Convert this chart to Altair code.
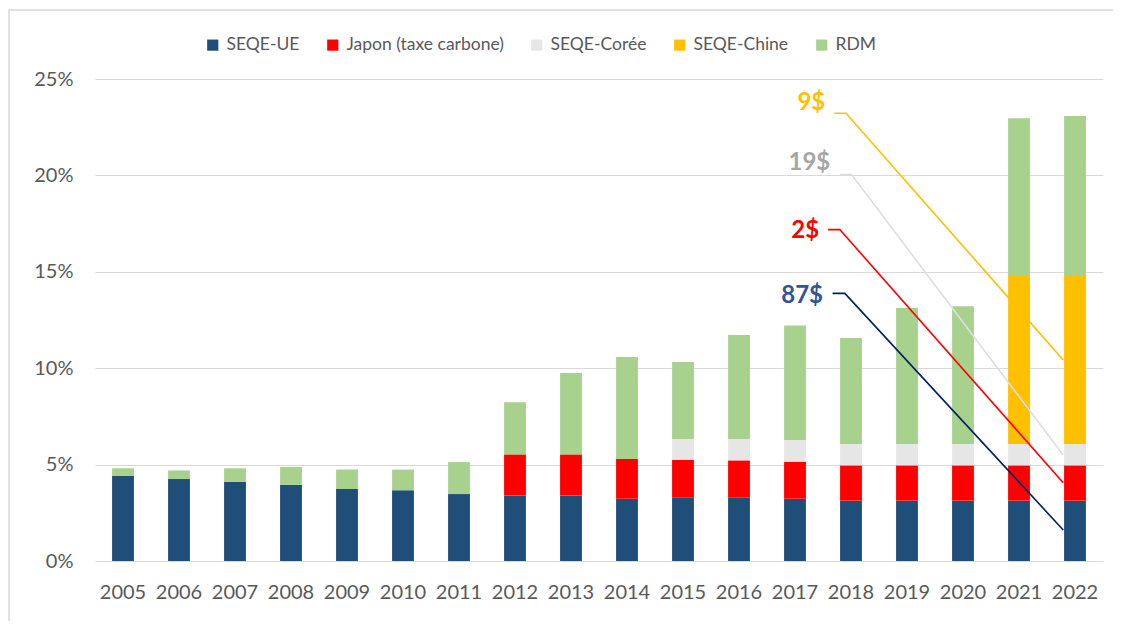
import altair as alt
import pandas as pd

years = [str(y) for y in range(2005, 2023)]
series = ["SEQE-UE", "Japon (taxe carbone)", "SEQE-Corée", "SEQE-Chine", "RDM"]
colors = ["#1F4E79", "#FF0000", "#E7E6E6", "#FFC000", "#A9D18E"]

eu = [4.41, 4.25, 4.10, 3.96, 3.73, 3.67, 3.47, 3.39, 3.39, 3.23, 3.28, 3.28, 3.23, 3.13, 3.13, 3.13, 3.13, 3.13]
japon = [0, 0, 0, 0, 0, 0, 0, 2.14, 2.14, 2.06, 1.97, 1.94, 1.92, 1.83, 1.83, 1.83, 1.83, 1.83]
coree = [0, 0, 0, 0, 0, 0, 0, 0, 0, 0, 1.08, 1.11, 1.13, 1.11, 1.11, 1.11, 1.11, 1.11]
chine = [0, 0, 0, 0, 0, 0, 0, 0, 0, 0, 0, 0, 0, 0, 0, 0, 8.76, 8.76]
rdm = [0.40, 0.45, 0.71, 0.92, 1.01, 1.07, 1.66, 2.70, 4.22, 5.29, 3.99, 5.39, 5.94, 5.50, 7.05, 7.14, 8.13, 8.25]

# price annotations (x in year-index units, y in %)
ann_labels = ["9$", "19$", "2$", "87$"]
ann_label_colors = ["#FFC000", "#A6A6A6", "#FF0000", "#2F5597"]
ann_line_colors = ["#FFC000", "#DEDEDE", "#FF0000", "#002060"]
ann_label_x = [12.54, 12.63, 12.43, 12.50]
ann_label_y = [23.74, 20.66, 17.13, 13.74]
ann_start_x = [12.70, 12.80, 12.59, 12.67]
ann_knee_x = [12.91, 13.01, 12.80, 12.89]
ann_start_y = [23.22, 20.04, 17.19, 13.88]
ann_end_x = [16.79, 16.79, 16.79, 16.79]
ann_end_y = [10.43, 5.50, 4.06, 1.61]

values = [eu, japon, coree, chine, rdm]
rows = []
for si, (name, vals) in enumerate(zip(series, values)):
    for y, v in zip(years, vals):
        rows.append({"year": y, "serie": name, "value": v, "ord": si})
df = pd.DataFrame(rows)

line_rows = []
for i, lab in enumerate(ann_labels):
    pts = [(ann_start_x[i], ann_start_y[i]), (ann_knee_x[i], ann_start_y[i]), (ann_end_x[i], ann_end_y[i])]
    for k, (px, py) in enumerate(pts):
        line_rows.append({"lab": lab, "k": k, "px": px, "py": py})
df_lines = pd.DataFrame(line_rows)
df_labels = pd.DataFrame({"lab": ann_labels, "px": ann_label_x, "py": ann_label_y, "col": ann_label_colors})

W, H = 1008, 482
yscale = alt.Scale(domain=[0, 25], nice=False)
yaxis = alt.Axis(values=[0, 5, 10, 15, 20, 25], labelExpr="datum.value + '%'",
                 ticks=False, domain=False, labelPadding=22, grid=True,
                 gridColor="#D9D9D9", gridWidth=1.2, labelFontSize=20,
                 labelColor="#595959", labelFont="Lato", title=None)

bars = alt.Chart(df).mark_bar().encode(
    x=alt.X("year:N", sort=years, title=None,
            scale=alt.Scale(paddingInner=0.61, paddingOuter=0.305),
            axis=alt.Axis(labelAngle=0, ticks=False, domain=False, labelPadding=21,
                          labelFontSize=20, labelColor="#595959", labelFont="Lato")),
    y=alt.Y("value:Q", stack="zero", scale=yscale, title=None, axis=yaxis),
    color=alt.Color("serie:N", scale=alt.Scale(domain=series, range=colors),
                    legend=alt.Legend(title=None, orient="none", legendX=109, legendY=-43,
                                      direction="horizontal", symbolType="square",
                                      symbolSize=125, symbolStrokeWidth=0,
                                      labelFontSize=17.5, labelColor="#595959", labelFont="Lato",
                                      labelLimit=400, columnPadding=24, labelOffset=5, padding=0)),
    order=alt.Order("ord:Q"),
)

xq = alt.Scale(domain=[-0.5, 17.5], nice=False, zero=False)
lines = alt.Chart(df_lines).mark_line(strokeWidth=1.6).encode(
    x=alt.X("px:Q", scale=xq, axis=None),
    y=alt.Y("py:Q", scale=yscale, title=None, axis=yaxis),
    detail="lab:N",
    order="k:Q",
    color=alt.Color("lab:N", scale=alt.Scale(domain=ann_labels, range=ann_line_colors), legend=None),
)
labels = alt.Chart(df_labels).mark_text(align="right", baseline="middle", fontSize=24,
                                        fontWeight="bold", font="Lato").encode(
    x=alt.X("px:Q", scale=xq, axis=None),
    y=alt.Y("py:Q", scale=yscale, title=None, axis=yaxis),
    text="lab:N",
    color=alt.Color("col:N", scale=None),
)

frame = alt.Chart(pd.DataFrame({"a": [0]})).mark_rect(fillOpacity=0, stroke="#D9D9D9", strokeWidth=1.5).encode(
    x=alt.value(-86), x2=alt.value(1060), y=alt.value(-69), y2=alt.value(620)
)

chart = alt.layer(bars, lines, labels, frame).resolve_scale(
    x="independent", color="independent"
).properties(
    width=W, height=H,
    autosize=alt.AutoSizeParams(type="none"),
    padding={"left": 87, "top": 71, "right": 10, "bottom": 60},
).configure_view(stroke=None)

chart.save("out.html", embed_options={"renderer": "svg", "actions": False})
